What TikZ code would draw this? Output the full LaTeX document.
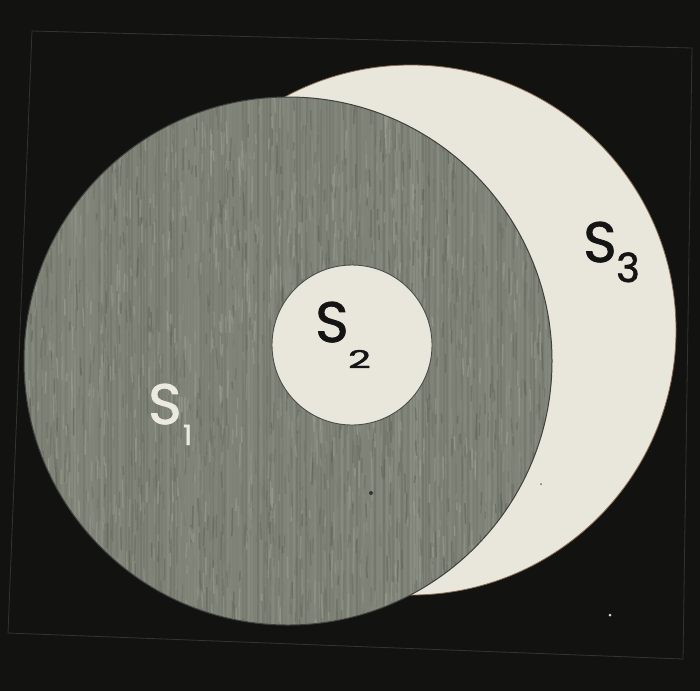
\documentclass[tikz,border=0pt]{standalone}
\usepackage{fontspec}
\newfontfamily\labfont{Poppins}[FakeBold=1.3]
\newfontfamily\subfont{Poppins}[FakeBold=1.6]
\definecolor{bgc}{HTML}{121211}
\definecolor{framec}{HTML}{34342F}
\definecolor{greyc}{HTML}{7E8277}
\definecolor{greyhi}{HTML}{A2A69A}
\definecolor{greylo}{HTML}{5C6055}
\definecolor{lightc}{HTML}{E9E6DC}
\definecolor{edgec}{HTML}{8A6A50}
\definecolor{inkc}{HTML}{141414}
\definecolor{whitec}{HTML}{ECEAE0}
\tikzset{
  framestyle/.style={draw=framec, line width=0.8pt},
  lbl/.style={anchor=base west, inner sep=0pt, font=\labfont\fontsize{57}{57}\selectfont},
  sublbl/.style={anchor=base west, inner sep=0pt},
}
\begin{document}
\begin{tikzpicture}[x=1pt,y=-1pt]
\useasboundingbox (0,0) rectangle (700,691);
\fill[bgc] (0,0) rectangle (700,691);
% board frame
\coordinate (fa) at (32,31);
\coordinate (fb) at (692,48);
\coordinate (fc) at (683,659);
\coordinate (fd) at (8,633);
\draw[framestyle] (fa) -- (fb) -- (fc) -- (fd) -- cycle;
% S3 light disc
\fill[lightc, draw=edgec, line width=0.8pt] (411,330) circle (265);
% S1 grey disc with streaky texture
\begin{scope}
  \clip (288,361) circle (264);
  \fill[greyc] (288,361) circle (264);
  \pgfmathsetseed{11}
  \foreach \xx in {24,27,...,554}{
    \pgfmathtruncatemacro\pct{100*rnd}
    \draw[color=greyhi!\pct!greylo, line width=1.5pt, opacity=0.3] (\xx,95) -- (\xx,627);
  }
  \foreach \i in {1,...,2800}{
    \pgfmathsetmacro\px{24+530*rnd}
    \pgfmathsetmacro\py{95+532*rnd}
    \pgfmathsetmacro\ll{6+22*rnd}
    \pgfmathsetmacro\dx{2*rnd-1}
    \pgfmathtruncatemacro\pct{100*rnd}
    \draw[color=greyhi!\pct!greylo, line width=1.5pt, opacity=0.55, line cap=round]
      (\px,\py) -- ++(\dx,\ll);
  }
\end{scope}
\draw[black!75, line width=1pt] (288,361) circle (264);
% S2 small disc
\fill[lightc, draw=black!70, line width=0.9pt] (352,345) circle (80);
% specks
\fill[black!80] (371,493) circle (2);
\fill[edgec] (541,484) circle (1);
\fill[white!85!black] (610,615) circle (1.5);
% labels
\node[lbl, text=whitec] (s1) at (148,424) {S};
\node[sublbl, text=whitec, font=\subfont\fontsize{28}{28}\selectfont] (s1sub) at ([xshift=1pt]s1.base east) [yshift=-21pt] {1};
\node[lbl, text=inkc] (s2) at (315,342) {S};
\node[sublbl, text=inkc, font=\subfont\fontsize{36}{36}\selectfont] (s2sub) at ([xshift=-1pt]s2.base east) [yshift=-26pt] {\scalebox{1.1}[0.68]{2}};
\node[lbl, text=inkc] (s3) at (583,262) {S};
\node[sublbl, text=inkc, font=\subfont\fontsize{40}{40}\selectfont] (s3sub) at (616,282) {3};
\end{tikzpicture}
\end{document}
